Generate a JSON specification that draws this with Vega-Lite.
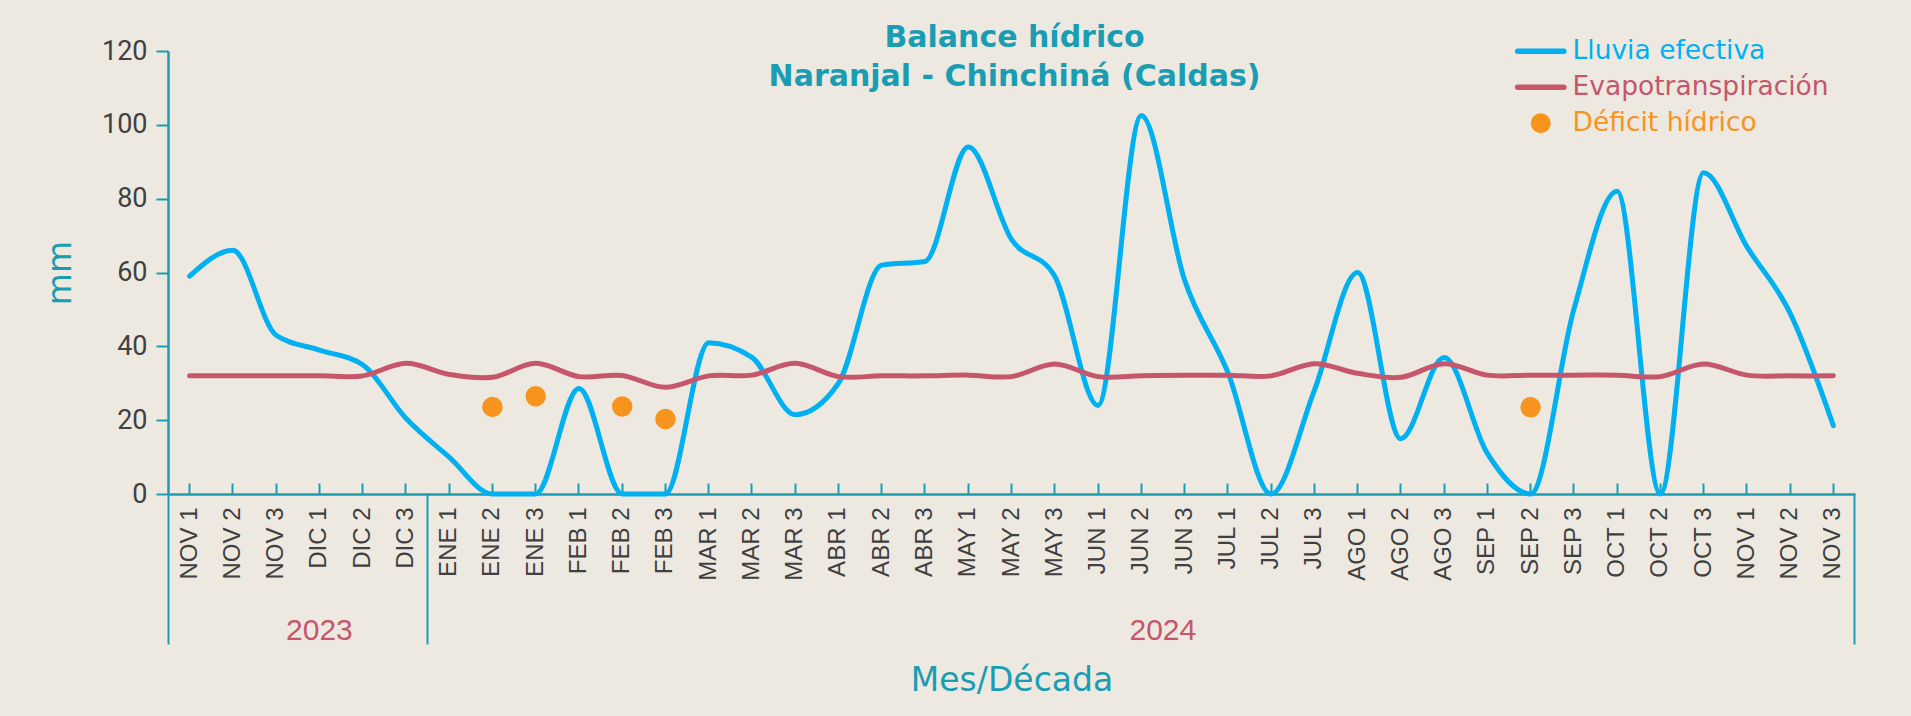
{
  "$schema": "https://vega.github.io/schema/vega-lite/v6.json",
  "width": 1687,
  "height": 443,
  "autosize": {"type": "none"},
  "padding": {"left": 168, "top": 51, "right": 56, "bottom": 222},
  "background": "#EDE9E1",
  "title": {
    "text": ["Balance hídrico", "Naranjal - Chinchiná (Caldas)"],
    "anchor": "middle",
    "frame": "group",
    "font": "DejaVu Sans",
    "fontSize": 30,
    "fontWeight": "bold",
    "color": "#1A9DB3",
    "lineHeight": 39,
    "baseline": "bottom",
    "offset": -85,
    "dx": 3
  },
  "data": {
    "values": [
      {"cat": "2023 NOV 1", "lluvia": 59, "evapo": 32},
      {"cat": "2023 NOV 2", "lluvia": 66, "evapo": 32},
      {"cat": "2023 NOV 3", "lluvia": 43, "evapo": 32},
      {"cat": "2023 DIC 1", "lluvia": 39, "evapo": 32},
      {"cat": "2023 DIC 2", "lluvia": 35, "evapo": 32},
      {"cat": "2023 DIC 3", "lluvia": 20.5, "evapo": 35.4},
      {"cat": "2024 ENE 1", "lluvia": 10, "evapo": 32.4},
      {"cat": "2024 ENE 2", "lluvia": 0, "evapo": 31.6, "deficit": 23.6},
      {"cat": "2024 ENE 3", "lluvia": 0, "evapo": 35.4, "deficit": 26.5},
      {"cat": "2024 FEB 1", "lluvia": 28.6, "evapo": 31.8},
      {"cat": "2024 FEB 2", "lluvia": 0, "evapo": 32.1, "deficit": 23.7},
      {"cat": "2024 FEB 3", "lluvia": 0, "evapo": 28.9, "deficit": 20.3},
      {"cat": "2024 MAR 1", "lluvia": 41, "evapo": 32},
      {"cat": "2024 MAR 2", "lluvia": 37, "evapo": 32.2},
      {"cat": "2024 MAR 3", "lluvia": 21.5, "evapo": 35.4},
      {"cat": "2024 ABR 1", "lluvia": 30, "evapo": 31.8},
      {"cat": "2024 ABR 2", "lluvia": 62, "evapo": 32},
      {"cat": "2024 ABR 3", "lluvia": 63, "evapo": 32},
      {"cat": "2024 MAY 1", "lluvia": 94, "evapo": 32.2},
      {"cat": "2024 MAY 2", "lluvia": 69, "evapo": 31.8},
      {"cat": "2024 MAY 3", "lluvia": 59, "evapo": 35.2},
      {"cat": "2024 JUN 1", "lluvia": 24, "evapo": 31.8},
      {"cat": "2024 JUN 2", "lluvia": 102.5, "evapo": 32},
      {"cat": "2024 JUN 3", "lluvia": 58, "evapo": 32.2},
      {"cat": "2024 JUL 1", "lluvia": 33, "evapo": 32.2},
      {"cat": "2024 JUL 2", "lluvia": 0, "evapo": 32},
      {"cat": "2024 JUL 3", "lluvia": 28, "evapo": 35.3},
      {"cat": "2024 AGO 1", "lluvia": 60, "evapo": 32.7},
      {"cat": "2024 AGO 2", "lluvia": 15, "evapo": 31.6},
      {"cat": "2024 AGO 3", "lluvia": 37, "evapo": 35.3},
      {"cat": "2024 SEP 1", "lluvia": 11, "evapo": 32.2},
      {"cat": "2024 SEP 2", "lluvia": 0, "evapo": 32.2, "deficit": 23.5},
      {"cat": "2024 SEP 3", "lluvia": 50, "evapo": 32.2},
      {"cat": "2024 OCT 1", "lluvia": 82, "evapo": 32.2},
      {"cat": "2024 OCT 2", "lluvia": 0, "evapo": 31.8},
      {"cat": "2024 OCT 3", "lluvia": 87, "evapo": 35.2},
      {"cat": "2024 NOV 1", "lluvia": 67, "evapo": 32.2},
      {"cat": "2024 NOV 2", "lluvia": 49, "evapo": 32},
      {"cat": "2024 NOV 3", "lluvia": 18.5, "evapo": 32}
    ]
  },
  "layer": [
    {
      "mark": {"type": "line", "interpolate": "monotone", "strokeWidth": 5, "strokeCap": "round", "strokeJoin": "round"},
      "encoding": {
        "x": {
          "field": "cat", "type": "nominal", "sort": null,
          "scale": {"type": "band", "paddingInner": 0, "paddingOuter": 0,
            "domain": ["2023 NOV 1","2023 NOV 2","2023 NOV 3","2023 DIC 1","2023 DIC 2","2023 DIC 3","2024 ENE 1","2024 ENE 2","2024 ENE 3","2024 FEB 1","2024 FEB 2","2024 FEB 3","2024 MAR 1","2024 MAR 2","2024 MAR 3","2024 ABR 1","2024 ABR 2","2024 ABR 3","2024 MAY 1","2024 MAY 2","2024 MAY 3","2024 JUN 1","2024 JUN 2","2024 JUN 3","2024 JUL 1","2024 JUL 2","2024 JUL 3","2024 AGO 1","2024 AGO 2","2024 AGO 3","2024 SEP 1","2024 SEP 2","2024 SEP 3","2024 OCT 1","2024 OCT 2","2024 OCT 3","2024 NOV 1","2024 NOV 2","2024 NOV 3"]},
          "axis": {
            "orient": "bottom",
            "title": "Mes/Década",
            "bandPosition": 0.5,
            "labelAngle": -90,
            "labelAlign": "right",
            "labelBaseline": "middle",
            "labelExpr": "substring(datum.value, 5)",
            "labelFont": "Liberation Sans",
            "labelFontSize": 24,
            "labelColor": "#404040",
            "labelPadding": 24,
            "labelOverlap": false,
            "tickSize": -11,
            "tickWidth": 2,
            "tickColor": "#1A9DB3",
            "domainColor": "#1A9DB3",
            "domainWidth": 2.5,
            "grid": false,
            "titleFont": "DejaVu Sans",
            "titleFontSize": 33,
            "titleFontWeight": "normal",
            "titleColor": "#1A9DB3",
            "titlePadding": 84
          }
        },
        "y": {
          "field": "lluvia", "type": "quantitative", "title": "mm",
          "scale": {"domain": [0, 120], "nice": false},
          "axis": {"values": [0, 20, 40, 60, 80, 100, 120], "title": "mm"}
        },
        "color": {
          "datum": "Lluvia efectiva",
          "scale": {"domain": ["Lluvia efectiva", "Evapotranspiración", "Déficit hídrico"], "range": ["#00B0F0", "#C5566B", "#F7941D"]},
          "legend": {
            "orient": "none",
            "legendX": 1359.5,
            "legendY": -13,
            "title": null,
            "padding": 0,
            "labelFont": "DejaVu Sans",
            "labelFontSize": 26.5,
            "labelOffset": 18.5,
            "labelLimit": 0,
            "rowPadding": 9,
            "symbolSize": 441,
            "encode": {
              "symbols": {
                "update": {
                  "shape": {"signal": "datum.value === 'Déficit hídrico' ? 'circle' : 'M-2.2,0L2.2,0'"},
                  "size": {"signal": "datum.value === 'Déficit hídrico' ? 400 : 441"},
                  "fill": {"signal": "datum.value === 'Déficit hídrico' ? scale('color', datum.value) : 'transparent'"},
                  "stroke": {"signal": "scale('color', datum.value)"},
                  "strokeWidth": {"signal": "datum.value === 'Déficit hídrico' ? 0 : 5.5"},
                  "strokeCap": {"value": "round"},
                  "opacity": {"value": 1}
                }
              },
              "labels": {
                "update": {
                  "fill": {"signal": "scale('color', datum.value)"}
                }
              }
            }
          }
        }
      }
    },
    {
      "mark": {"type": "line", "interpolate": "cardinal", "strokeWidth": 5, "strokeCap": "round", "strokeJoin": "round"},
      "encoding": {
        "x": {
          "field": "cat", "type": "nominal", "sort": null,
          "axis": {
            "orient": "bottom",
            "title": null,
            "bandPosition": 0,
            "values": ["2023 NOV 1", "2023 DIC 1", "2024 ENE 1", "2024 JUN 2"],
            "domain": false,
            "grid": false,
            "tickSize": 150,
            "tickWidth": 2,
            "tickColor": "#1A9DB3",
            "tickOpacity": {"condition": {"test": "datum.value === '2023 DIC 1' || datum.value === '2024 JUN 2'", "value": 0}, "value": 1},
            "labelExpr": "datum.value === '2023 DIC 1' ? '2023' : datum.value === '2024 JUN 2' ? '2024' : ''",
            "labelAngle": 0,
            "labelAlign": "center",
            "labelBaseline": "top",
            "labelFont": "Liberation Sans",
            "labelFontSize": 30,
            "labelColor": "#C5566B",
            "labelPadding": -29,
            "labelOffset": {"condition": {"test": "datum.value === '2024 JUN 2'", "value": 21.6}, "value": 0},
            "labelOverlap": false
          }
        },
        "y": {"field": "evapo", "type": "quantitative", "title": "mm", "scale": {"domain": [0, 120], "nice": false}},
        "color": {"datum": "Evapotranspiración"}
      }
    },
    {
      "mark": {"type": "point", "filled": true, "size": 420, "opacity": 1},
      "encoding": {
        "x": {
          "field": "cat", "type": "nominal", "sort": null,
          "axis": {
            "orient": "bottom",
            "title": null,
            "bandPosition": 1,
            "values": ["2024 NOV 3"],
            "domain": false,
            "grid": false,
            "labels": false,
            "tickSize": 150,
            "tickWidth": 2,
            "tickColor": "#1A9DB3"
          }
        },
        "y": {"field": "deficit", "type": "quantitative", "title": "mm", "scale": {"domain": [0, 120], "nice": false}},
        "color": {"datum": "Déficit hídrico"}
      }
    }
  ],
  "resolve": {"scale": {"x": "shared", "y": "shared", "color": "shared"}, "axis": {"x": "independent", "y": "shared"}},
  "config": {
    "view": {"stroke": null},
    "axisY": {
      "grid": false,
      "domainColor": "#1A9DB3",
      "domainWidth": 2.5,
      "tickColor": "#1A9DB3",
      "tickWidth": 2,
      "tickSize": 12,
      "labelFont": "Roboto",
      "labelFontSize": 27,
      "labelColor": "#404040",
      "labelPadding": 9,
      "titleFont": "DejaVu Sans",
      "titleFontSize": 33,
      "titleFontWeight": "normal",
      "titleColor": "#1A9DB3",
      "titlePadding": 24
    }
  }
}
